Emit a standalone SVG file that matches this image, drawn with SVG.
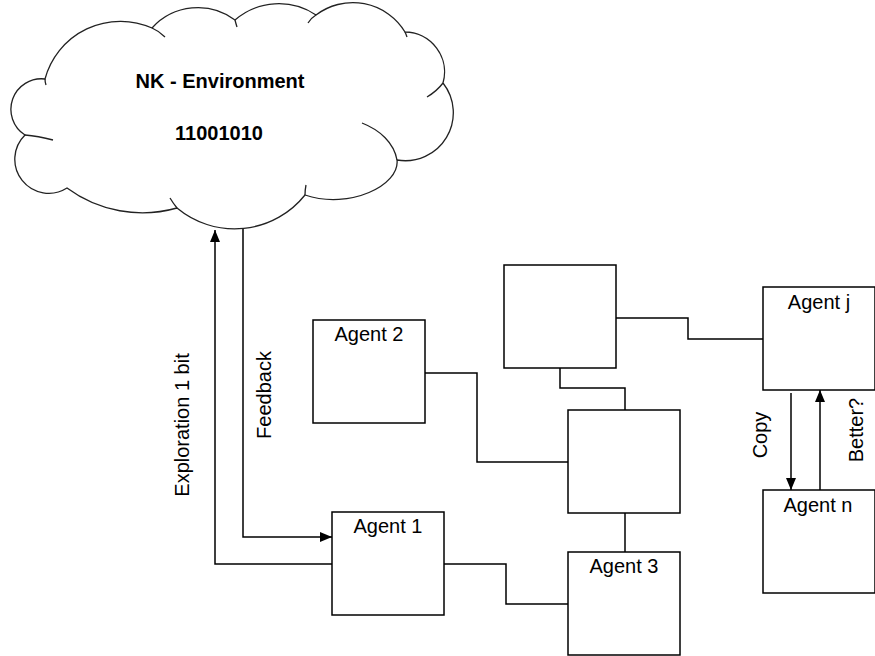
<svg xmlns="http://www.w3.org/2000/svg" width="875" height="656" viewBox="0 0 875 656">
<style>
.box{fill:#fff;stroke:#000;stroke-width:1.5}
.lbl{font-family:"Liberation Sans",Arial,sans-serif;font-size:20px;fill:#000;text-anchor:middle}
.bold{font-weight:bold}
.ln{fill:none;stroke:#000;stroke-width:1.5}
.cl{fill:#fff;stroke:#222;stroke-width:1.3}
.tail{fill:none;stroke:#222;stroke-width:1.3}
</style>
<defs>
<marker id="ah" markerWidth="12" markerHeight="10" refX="12" refY="5" orient="auto" markerUnits="userSpaceOnUse">
<path d="M0,0 L12,5 L0,10 z" fill="#000"/>
</marker>
</defs>
<rect width="875" height="656" fill="#fff"/>
<g id="cloud">
<path class="cl" d="M45,79 A78,78 0 0 1 152,28 A62,62 0 0 1 235,20 A67,67 0 0 1 316,15 A61,61 0 0 1 405,32 A40,40 0 0 1 443,83 A48,48 0 0 1 397,160 C400,185 350,210 305,195 A90,90 0 0 1 177,208 A127,127 0 0 1 67,188 A34,34 0 0 1 25,135 A30.5,30.5 0 0 1 45,79 Z"/>
<path class="tail" d="M25,135 Q38,136 53,140"/>
<path class="tail" d="M152,28 Q159,31 165,37"/>
<path class="tail" d="M235,20 Q236,24 237,27"/>
<path class="tail" d="M316,15 Q311,18 308,23"/>
<path class="tail" d="M405,32 Q406,34 407,37"/>
<path class="tail" d="M443,83 Q437,91 427,97"/>
<path class="tail" d="M362,123 C380,130 394,143 397,160"/>
<path class="tail" d="M305,195 Q305,190 306,185"/>
<path class="tail" d="M177,208 Q173,203 170,198"/>
<path class="tail" d="M45,79 Q45,82 46,85"/>
<text class="lbl bold" x="220" y="88">NK - Environment</text>
<text class="lbl bold" x="219" y="140">11001010</text>
</g>
<g id="connectors">
<path class="ln" d="M332,564 H215 V230" marker-end="url(#ah)"/>
<path class="ln" d="M243,229 V537 H332" marker-end="url(#ah)"/>
<path class="ln" d="M616,318 H688 V339 H763"/>
<path class="ln" d="M560,368 V388 H625 V410"/>
<path class="ln" d="M425,373 H477 V462 H568"/>
<path class="ln" d="M625,513 V552"/>
<path class="ln" d="M444,564 H506 V604 H568"/>
<path class="ln" d="M791,393 V490" marker-end="url(#ah)"/>
<path class="ln" d="M820,490 V390" marker-end="url(#ah)"/>
<text class="lbl" transform="translate(189,425) rotate(-90)">Exploration 1 bit</text>
<text class="lbl" transform="translate(271,395) rotate(-90)">Feedback</text>
<text class="lbl" transform="translate(767,435) rotate(-90)">Copy</text>
<text class="lbl" transform="translate(863,430) rotate(-90)">Better?</text>
</g>
<g id="agent2">
<rect class="box" x="313" y="320" width="112" height="103"/>
<text class="lbl" x="369" y="341">Agent 2</text>
</g>
<g id="agent1">
<rect class="box" x="332" y="512" width="112" height="103"/>
<text class="lbl" x="388" y="533">Agent 1</text>
</g>
<g id="agentTop">
<rect class="box" x="504" y="265" width="112" height="103"/>
</g>
<g id="agentMid">
<rect class="box" x="568" y="410" width="112" height="103"/>
</g>
<g id="agent3">
<rect class="box" x="568" y="552" width="112" height="103"/>
<text class="lbl" x="624" y="573">Agent 3</text>
</g>
<g id="agentj">
<rect class="box" x="763" y="287" width="112" height="103"/>
<text class="lbl" x="819" y="309">Agent j</text>
</g>
<g id="agentn">
<rect class="box" x="763" y="490" width="112" height="103"/>
<text class="lbl" x="818" y="512">Agent n</text>
</g>
</svg>
